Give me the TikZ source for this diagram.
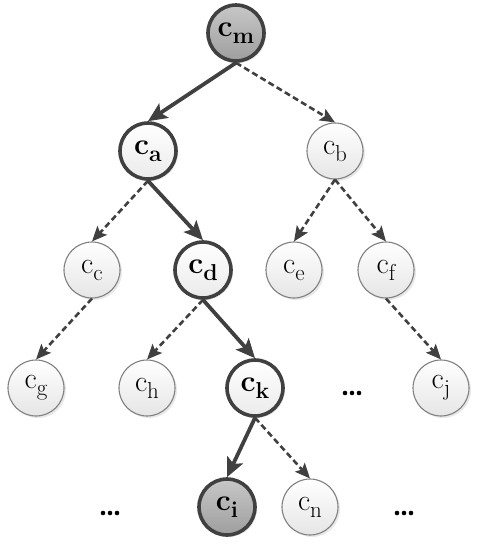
\documentclass[tikz,border=0pt]{standalone}
\usepackage{fontspec}
\usetikzlibrary{arrows.meta,shadows}
\newcommand{\lbl}[1]{\fontsize{30}{30}\selectfont c\raisebox{-7pt}{\fontsize{23}{23}\selectfont #1}}
\begin{document}
\begin{tikzpicture}[x=1pt,y=-1pt,
  nd/.style={circle,minimum size=56pt,inner sep=0pt,
     drop shadow={opacity=0.18,shadow xshift=2pt,shadow yshift=-2pt}},
  light/.style={nd,draw=black!50,line width=1.1pt,top color=white,bottom color=black!10},
  boldw/.style={nd,draw=black!75,line width=3.6pt,top color=white,bottom color=black!8,font=\bfseries},
  boldg/.style={nd,draw=black!75,line width=3.6pt,top color=black!22,bottom color=black!38,font=\bfseries},
  solidedge/.style={draw=black!75,line width=3.8pt,-{Stealth[length=19pt,width=17pt,inset=4pt]}},
  dashedge/.style={draw=black!75,line width=2.6pt,dash pattern=on 6pt off 3.5pt,-{Stealth[length=15pt,width=13pt,inset=3pt]}},
  dotn/.style={circle,fill=black,inner sep=0pt,minimum size=4.6pt}
]
\useasboundingbox (0,0) rectangle (482,550);
\node[boldg] (cm) at (236,33) {\lbl{m}};
\node[boldw] (ca) at (148,151) {\lbl{a}};
\node[light] (cb) at (335,151) {\lbl{b}};
\node[light] (cc) at (92,270) {\lbl{c}};
\node[boldw] (cd) at (203,270) {\lbl{d}};
\node[light] (ce) at (294,270) {\lbl{e}};
\node[light] (cf) at (386,270) {\lbl{f}};
\node[light] (cg) at (36,388) {\lbl{g}};
\node[light] (ch) at (147,388) {\lbl{h}};
\node[boldw] (ck) at (255,388) {\lbl{k}};
\node[light] (cj) at (441,388) {\lbl{j}};
\node[boldg] (ci) at (227,507) {\lbl{i}};
\node[light] (cn) at (310,507) {\lbl{n}};
\foreach \n/\x/\y in {d1/352/393,d2/110/513,d3/404/513}{
  \node[dotn] (\n a) at (\x-7,\y) {};
  \node[dotn] (\n b) at (\x,\y) {};
  \node[dotn] (\n c) at (\x+7,\y) {};
}
\draw[solidedge] (cm.south) -- (ca.north);
\draw[dashedge] (cm.south) -- (cb.north);
\draw[solidedge] (ca.south) -- (cd.north);
\draw[dashedge] (ca.south) -- (cc.north);
\draw[dashedge] (cb.south) -- (ce.north);
\draw[dashedge] (cb.south) -- (cf.north);
\draw[dashedge] (cc.south) -- (cg.north);
\draw[dashedge] (cd.south) -- (ch.north);
\draw[solidedge] (cd.south) -- (ck.north);
\draw[dashedge] (cf.south) -- (cj.north);
\draw[solidedge] (ck.south) -- (ci.north);
\draw[dashedge] (ck.south) -- (cn.north);
\end{tikzpicture}
\end{document}
